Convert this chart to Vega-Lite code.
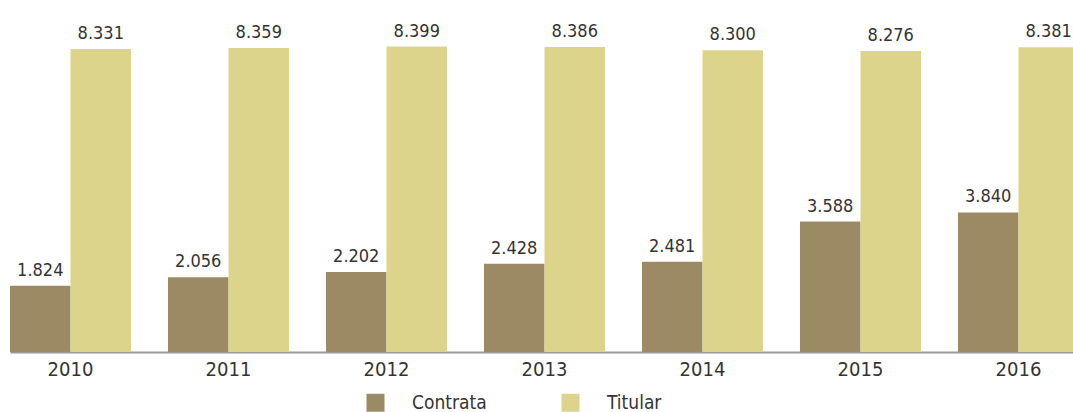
{
  "$schema": "https://vega.github.io/schema/vega-lite/v6.json",
  "autosize": "none",
  "width": 1069,
  "height": 352,
  "padding": {"left": 10, "top": 0, "right": 0, "bottom": 60},
  "background": "white",
  "config": {
    "view": {"stroke": null},
    "font": "DejaVu Sans Condensed, sans-serif",
    "locale": {"number": {"decimal": ",", "thousands": ".", "grouping": [3], "currency": ["", " €"]}}
  },
  "data": {
    "values": [
      {"year": "2010", "serie": "Contrata", "value": 1824},
      {"year": "2010", "serie": "Titular", "value": 8331},
      {"year": "2011", "serie": "Contrata", "value": 2056},
      {"year": "2011", "serie": "Titular", "value": 8359},
      {"year": "2012", "serie": "Contrata", "value": 2202},
      {"year": "2012", "serie": "Titular", "value": 8399},
      {"year": "2013", "serie": "Contrata", "value": 2428},
      {"year": "2013", "serie": "Titular", "value": 8386},
      {"year": "2014", "serie": "Contrata", "value": 2481},
      {"year": "2014", "serie": "Titular", "value": 8300},
      {"year": "2015", "serie": "Contrata", "value": 3588},
      {"year": "2015", "serie": "Titular", "value": 8276},
      {"year": "2016", "serie": "Contrata", "value": 3840},
      {"year": "2016", "serie": "Titular", "value": 8381}
    ]
  },
  "encoding": {
    "x": {
      "field": "year",
      "type": "nominal",
      "scale": {"paddingInner": 0.234, "paddingOuter": 0},
      "axis": {
        "title": null,
        "labelAngle": 0,
        "ticks": false,
        "domain": true,
        "domainColor": "#999999",
        "domainWidth": 2,
        "labelFontSize": 20,
        "labelColor": "#333333",
        "labelPadding": 7,
        "labelFont": "DejaVu Sans Condensed, sans-serif"
      }
    },
    "xOffset": {
      "field": "serie",
      "type": "nominal",
      "sort": ["Contrata", "Titular"],
      "scale": {"paddingInner": 0, "paddingOuter": 0}
    },
    "y": {
      "field": "value",
      "type": "quantitative",
      "scale": {"domain": [0, 9681], "nice": false, "zero": true},
      "axis": null
    }
  },
  "layer": [
    {
      "mark": {"type": "bar"},
      "encoding": {
        "color": {
          "field": "serie",
          "type": "nominal",
          "scale": {"domain": ["Contrata", "Titular"], "range": ["#9b8a64", "#ddd48c"]},
          "legend": {
            "title": null,
            "orient": "none",
            "legendX": 356,
            "legendY": 393,
            "direction": "horizontal",
            "symbolType": "square",
            "symbolSize": 324,
            "symbolStrokeWidth": 0,
            "symbolOpacity": 1,
            "labelFontSize": 19,
            "labelColor": "#333333",
            "labelFont": "DejaVu Sans Condensed, sans-serif",
            "labelOffset": 27,
            "columnPadding": 74,
            "padding": 0
          }
        }
      }
    },
    {
      "mark": {"type": "text", "dy": -10, "baseline": "alphabetic", "fontSize": 18, "color": "#333333", "font": "DejaVu Sans Condensed, sans-serif"},
      "encoding": {
        "text": {"field": "value", "type": "quantitative", "format": ",d"}
      }
    }
  ]
}
